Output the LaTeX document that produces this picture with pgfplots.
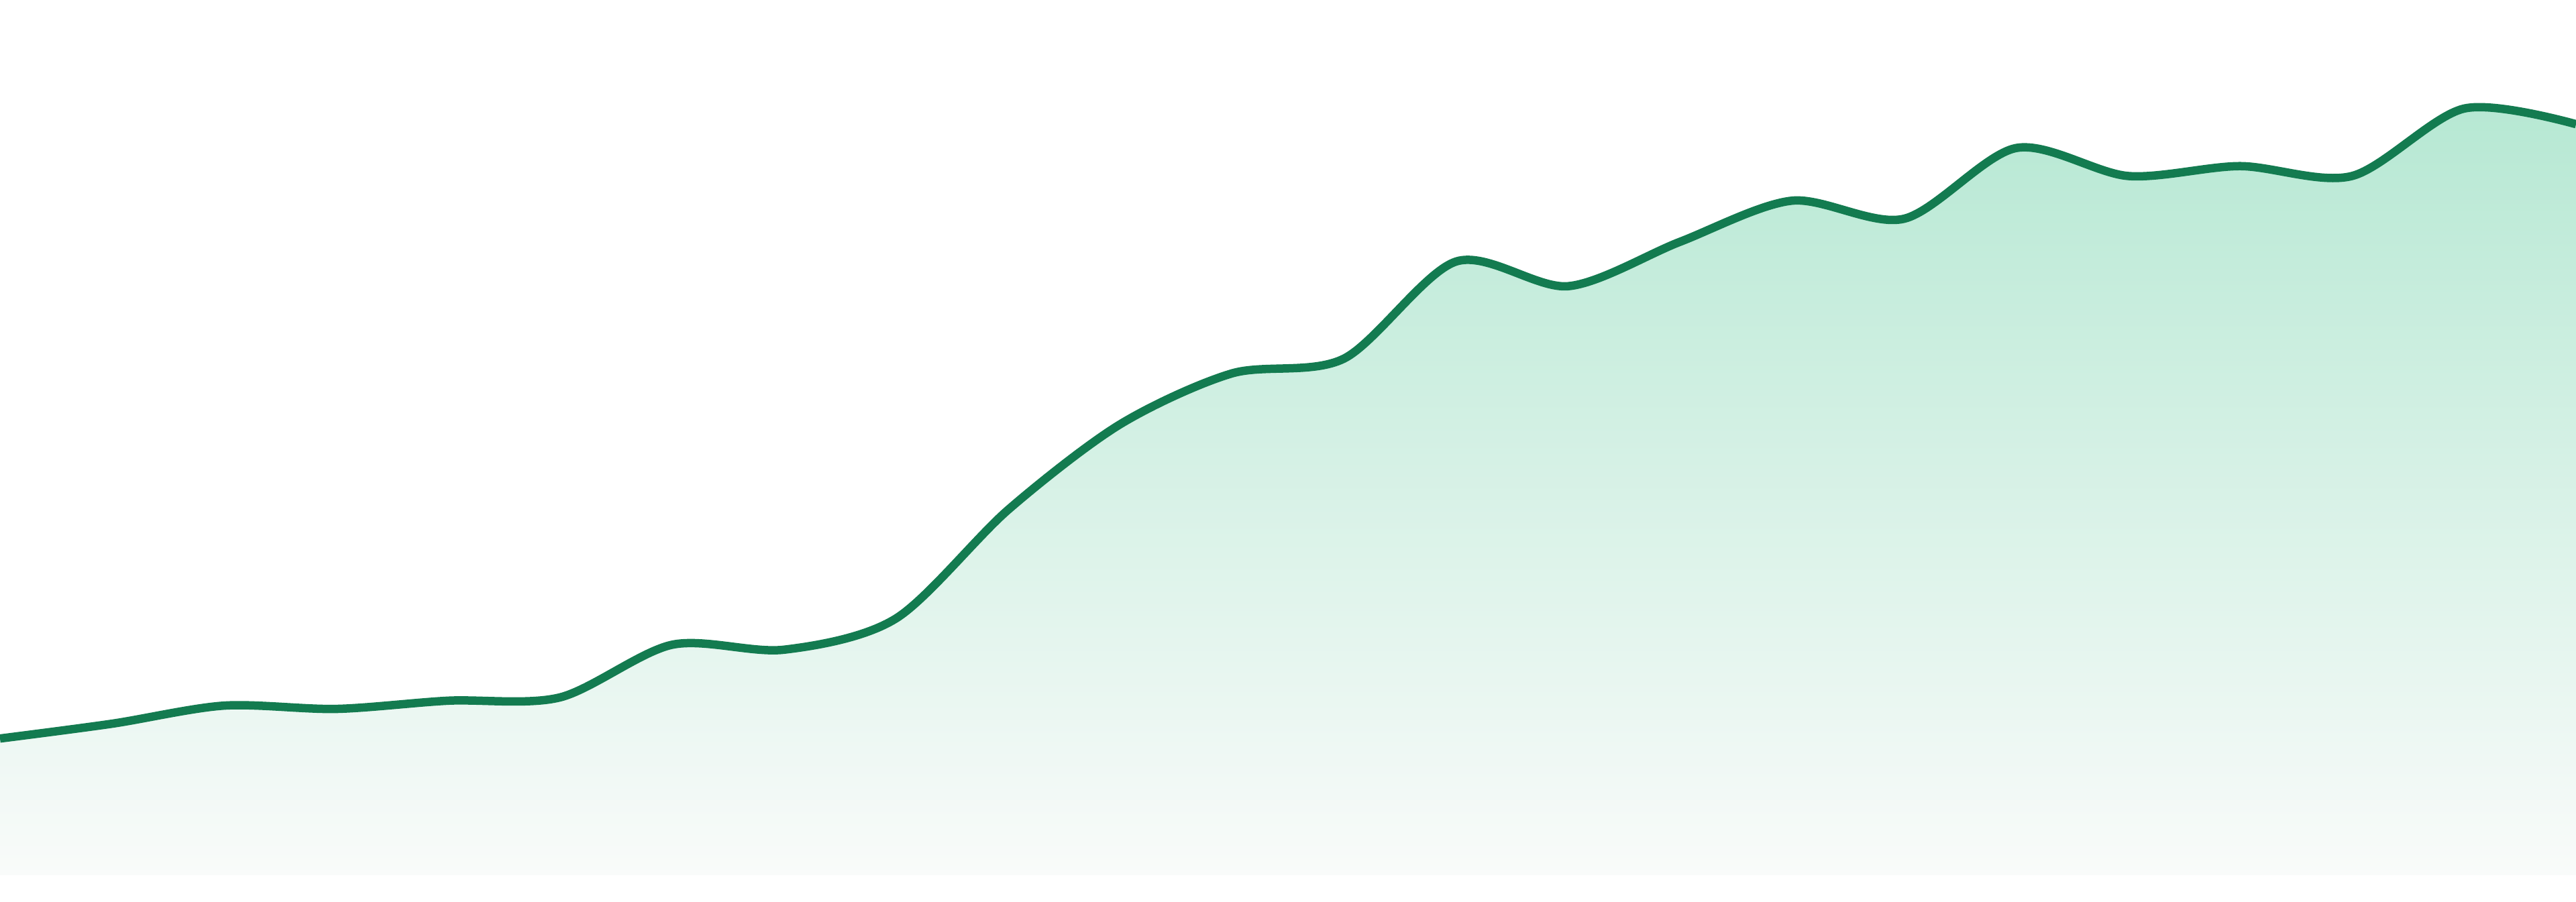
\documentclass[border=0pt]{standalone}
\usepackage{pgfplots}
\pgfplotsset{compat=1.18}
\definecolor{linegreen}{HTML}{137B50}
\definecolor{filltop}{HTML}{B6E8D3}
\definecolor{fillbot}{HTML}{F9FBFA}
\begin{document}
\begin{tikzpicture}
\begin{axis}[
  scale only axis,
  width=384pt, height=134.4pt,
  hide axis,
  xmin=0, xmax=23,
  ymin=-16, ymax=532,
  clip=true,
]
\path (rel axis cs:0,0) rectangle (rel axis cs:1,1);
\addplot[draw=none, top color=filltop, bottom color=fillbot, smooth, tension=0.5] coordinates {
(0,83) (1,92) (2,103) (3,101) (4,106) (5,108) (6,140) (7,137) (8,156) (9,222) (10,274) (11,305) (12,314) (13,373) (14,358) (15,385) (16,410) (17,399) (18,442) (19,425) (20,431) (21,425) (22,466) (23,456.5)
} \closedcycle;
\addplot[color=linegreen, line width=1.25pt, smooth, tension=0.5] coordinates {
(0,83) (1,92) (2,103) (3,101) (4,106) (5,108) (6,140) (7,137) (8,156) (9,222) (10,274) (11,305) (12,314) (13,373) (14,358) (15,385) (16,410) (17,399) (18,442) (19,425) (20,431) (21,425) (22,466) (23,456.5)
};
\end{axis}
\end{tikzpicture}
\end{document}
